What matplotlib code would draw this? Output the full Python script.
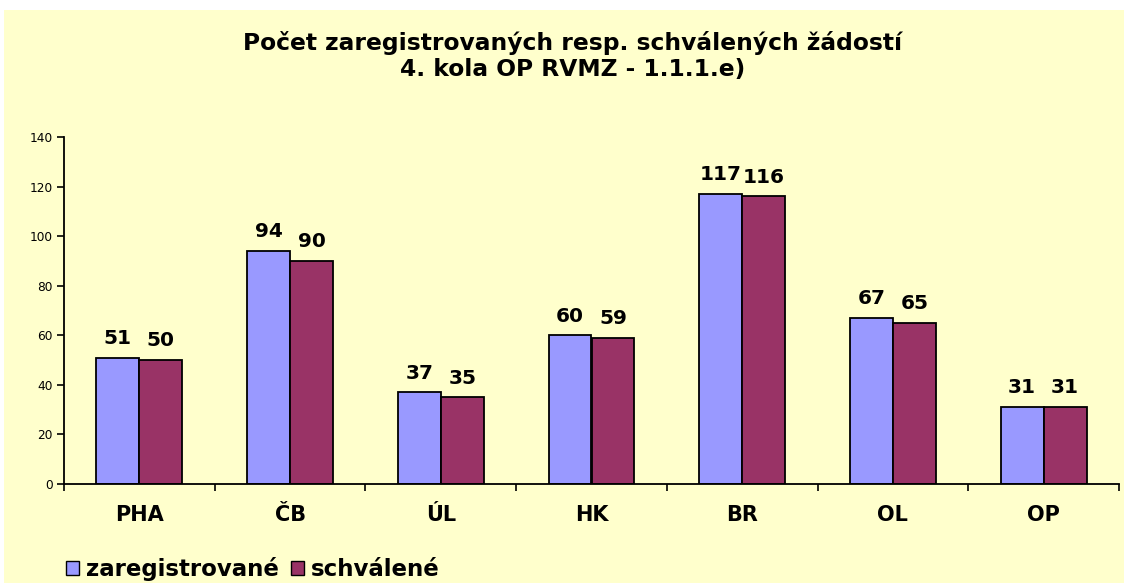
import matplotlib
matplotlib.use("Agg")
import matplotlib.pyplot as plt
import numpy as np
from matplotlib.patches import Rectangle, Patch

categories = ["PHA", "ČB", "ÚL", "HK", "BR", "OL", "OP"]
registered = [51, 94, 37, 60, 117, 67, 31]
approved = [50, 90, 35, 59, 116, 65, 31]
series_names = ["zaregistrované", "schválené"]
title = "Počet zaregistrovaných resp. schválených žádostí\n4. kola OP RVMZ - 1.1.1.e)"

W, H = 1124, 583
fig = plt.figure(figsize=(W / 100, H / 100), dpi=100)
fig.patch.set_facecolor("white")
bg = Rectangle((4 / W, 0), 1 - 4 / W, 1 - 10 / H, transform=fig.transFigure,
               facecolor="#FFFFCC", edgecolor="none", zorder=-10)
fig.add_artist(bg)

ax = fig.add_axes([64 / W, 1 - 484 / H, (1119 - 64) / W, (484 - 137) / H])
ax.set_facecolor("none")
ax.set_zorder(1)

x = np.arange(len(categories))
bw = 0.285
c1, c2 = "#9999FF", "#993366"
b1 = ax.bar(x - bw / 2, registered, bw, color=c1, edgecolor="black", linewidth=1.3)
b2 = ax.bar(x + bw / 2, approved, bw, color=c2, edgecolor="black", linewidth=1.3)

for bars, vals in ((b1, registered), (b2, approved)):
    for rect, v in zip(bars, vals):
        ax.annotate(str(v), (rect.get_x() + rect.get_width() / 2, v), xytext=(0, 7),
                    textcoords="offset points", ha="center", va="bottom",
                    fontsize=14.5, fontweight="bold", family="DejaVu Sans")

ax.set_xlim(-0.5, len(categories) - 0.5)
ax.set_ylim(0, 140)
ax.set_yticks(range(0, 141, 20))
ax.tick_params(axis="y", labelsize=8.7, length=5, width=1.2, direction="out", pad=3)
ax.set_xticks(x)
ax.set_xticklabels(categories, fontsize=15, fontweight="bold")
ax.set_xticks(np.arange(-0.5, len(categories), 1), minor=True)
ax.tick_params(axis="x", which="major", length=0, pad=15)
ax.tick_params(axis="x", which="minor", length=5, width=1.2, direction="out")
for s in ("top", "right"):
    ax.spines[s].set_visible(False)
for s in ("left", "bottom"):
    ax.spines[s].set_linewidth(1.3)

fig.text(573 / W, 1 - 56 / H, title, ha="center", va="center", fontsize=16.8,
         fontweight="bold", family="DejaVu Sans", linespacing=1.2)

handles = [Patch(facecolor=c1, edgecolor="black"), Patch(facecolor=c2, edgecolor="black")]
leg = fig.legend(handles, series_names, loc="center left", bbox_to_anchor=(57 / W, 1 - 569 / H),
                 ncol=2, frameon=False, handlelength=0.55, handleheight=0.55, handletextpad=0.3,
                 columnspacing=0.55, prop={"size": 16.5, "weight": "bold"}, borderaxespad=0)

fig.savefig("out.png", dpi=100)
